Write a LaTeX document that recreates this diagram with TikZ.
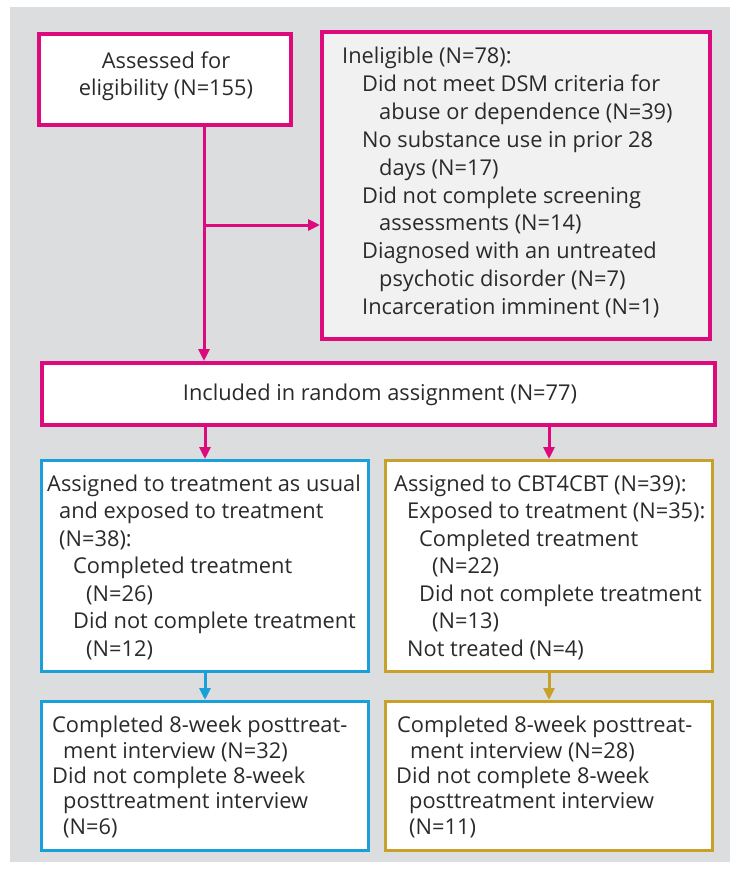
\documentclass[tikz,border=0pt]{standalone}
\usepackage{fontspec}
\setmainfont{Open Sans}
\usetikzlibrary{arrows.meta}
\definecolor{mag}{HTML}{DD0A7E}
\definecolor{cyanb}{HTML}{1AA0D8}
\definecolor{gold}{HTML}{C9A02A}
\definecolor{panel}{HTML}{DCDDDE}
\definecolor{inelfill}{HTML}{F1F1F1}
\definecolor{ink}{HTML}{2A2A2A}
\newcommand{\tline}[4]{\node[txt] (#1) at (#2,#3) {#4};}
\begin{document}
\begin{tikzpicture}[x=1pt,y=-1pt,
  txt/.style={anchor=base west,inner sep=0pt,text=ink,font=\fontsize{21.8}{25}\selectfont},
  ctxt/.style={txt,anchor=base},
  boxm/.style={draw=mag,line width=4pt,fill=white,inner sep=0pt,rectangle},
  boxb/.style={draw=cyanb,line width=3pt,fill=white,inner sep=0pt,rectangle},
  boxg/.style={draw=gold,line width=3pt,fill=white,inner sep=0pt,rectangle},
  arr/.style={line width=3pt,-{Triangle[width=11pt,length=12pt]}},
]
\useasboundingbox (0,0) rectangle (738,869);
\fill[panel] (10,7) rectangle (730,862);

% boxes
\node[boxm,minimum width=252pt,minimum height=91pt] (assess) at (165,79.5) {};
\node[boxm,fill=inelfill,minimum width=388pt,minimum height=307pt] (inel) at (516,185.5) {};
\node[boxm,minimum width=673pt,minimum height=62pt] (incl) at (378.5,394) {};
\node[boxb,minimum width=327pt,minimum height=211pt] (tau) at (205,566) {};
\node[boxg,minimum width=327pt,minimum height=211pt] (cbt) at (549,566) {};
\node[boxb,minimum width=327pt,minimum height=149pt] (taupost) at (205,776) {};
\node[boxg,minimum width=327pt,minimum height=149pt] (cbtpost) at (549,776) {};

% connectors
\coordinate (br) at (204,225);
\draw[arr,mag] (assess.south -| br) -- (incl.north -| br);
\draw[arr,mag] (br) -- (br -| inel.west);
\draw[arr,mag] (incl.south -| tau.north) -- (tau.north);
\draw[arr,mag] (incl.south -| cbt.north) -- (cbt.north);
\draw[arr,cyanb] (tau.south) -- (taupost.north);
\draw[arr,gold] (cbt.south) -- (cbtpost.north);

% texts
\node[ctxt] (a1) at (166,69) {Assessed for};
\node[ctxt] (a2) at (166,96) {eligibility (N=155)};

\tline{i0}{342}{64}{Ineligible (N=78):}
\tline{i1}{362}{91.8}{Did not meet DSM criteria for}
\tline{i2}{379}{119.6}{abuse or dependence (N=39)}
\tline{i3}{362}{147.4}{No substance use in prior 28}
\tline{i4}{379}{175.2}{days (N=17)}
\tline{i5}{362}{203}{Did not complete screening}
\tline{i6}{379}{230.8}{assessments (N=14)}
\tline{i7}{362}{258.6}{Diagnosed with an untreated}
\tline{i8}{379}{286.4}{psychotic disorder (N=7)}
\tline{i9}{362}{314.2}{Incarceration imminent (N=1)}

\node[ctxt] (r0) at (380,400) {Included in random assignment (N=77)};

\tline{t0}{47}{491}{Assigned to treatment as usual}
\tline{t1}{59}{518.5}{and exposed to treatment}
\tline{t2}{59}{546}{(N=38):}
\tline{t3}{73}{573.5}{Completed treatment}
\tline{t4}{86}{601}{(N=26)}
\tline{t5}{73}{628.5}{Did not complete treatment}
\tline{t6}{86}{656}{(N=12)}

\tline{c0}{394}{491}{Assigned to CBT4CBT (N=39):}
\tline{c1}{407}{518.5}{Exposed to treatment (N=35):}
\tline{c2}{419}{546}{Completed treatment}
\tline{c3}{432}{573.5}{(N=22)}
\tline{c4}{419}{601}{Did not complete treatment}
\tline{c5}{432}{628.5}{(N=13)}
\tline{c6}{407}{656}{Not treated (N=4)}

\tline{p0}{52}{732}{Completed 8-week posttreat-}
\tline{p1}{63}{758}{ment interview (N=32)}
\tline{p2}{52}{783}{Did not complete 8-week}
\tline{p3}{63}{808}{posttreatment interview}
\tline{p4}{63}{834}{(N=6)}

\tline{q0}{397}{732}{Completed 8-week posttreat-}
\tline{q1}{410}{758}{ment interview (N=28)}
\tline{q2}{396}{783}{Did not complete 8-week}
\tline{q3}{409}{808}{posttreatment interview}
\tline{q4}{409}{834}{(N=11)}
\end{tikzpicture}
\end{document}
